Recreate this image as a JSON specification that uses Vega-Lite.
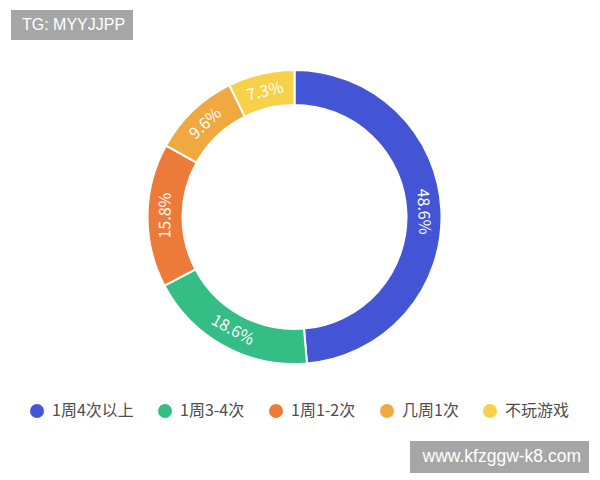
{
  "$schema": "https://vega.github.io/schema/vega-lite/v6.json",
  "width": 589,
  "height": 434,
  "autosize": {"type": "none"},
  "padding": {"left": 0, "top": 0, "right": 11, "bottom": 46},
  "background": "white",
  "config": {
    "view": {"stroke": null},
    "font": "Noto Sans CJK SC"
  },
  "resolve": {"scale": {"shape": "independent"}},
  "layer": [
    {
      "data": {
        "values": [
          {"category": "1周4次以上", "value": 48.6, "order": 1},
          {"category": "1周3-4次", "value": 18.6, "order": 2},
          {"category": "1周1-2次", "value": 15.8, "order": 3},
          {"category": "几周1次", "value": 9.6, "order": 4},
          {"category": "不玩游戏", "value": 7.3, "order": 5}
        ]
      },
      "layer": [
        {
          "mark": {"type": "arc", "outerRadius": 147, "innerRadius": 112, "stroke": "white", "strokeWidth": 2},
          "encoding": {
            "theta": {"field": "value", "type": "quantitative", "stack": true},
            "order": {"field": "order", "type": "quantitative"},
            "color": {
              "field": "category",
              "type": "nominal",
              "scale": {
                "domain": ["1周4次以上", "1周3-4次", "1周1-2次", "几周1次", "不玩游戏"],
                "range": ["#4355D4", "#34BD84", "#EC7B3A", "#F0A940", "#F8D14A"]
              },
              "legend": {
                "title": null,
                "orient": "none",
                "direction": "horizontal",
                "legendX": 29,
                "legendY": 403,
                "symbolType": "circle",
                "symbolSize": 196,
                "symbolStrokeWidth": 0,
                "symbolOpacity": 1,
                "labelFontSize": 16,
                "labelColor": "#4d4d4d",
                "labelOffset": 7,
                "columnPadding": 23,
                "labelFont": "Noto Sans CJK SC"
              }
            }
          }
        },
        {
          "transform": [
            {"window": [{"op": "sum", "field": "value", "as": "cum"}], "sort": [{"field": "order"}]},
            {"joinaggregate": [{"op": "sum", "field": "value", "as": "total"}]},
            {"calculate": "(datum.cum - datum.value / 2) / datum.total * 360", "as": "mid"},
            {"calculate": "datum.mid > 90 && datum.mid < 270 ? datum.mid - 180 : datum.mid", "as": "rot"},
            {"calculate": "format(datum.value, '.1f') + '%'", "as": "label"}
          ],
          "mark": {"type": "text", "radius": 129, "fontSize": 16, "color": "white", "font": "Noto Sans CJK SC", "baseline": "middle", "align": "center"},
          "encoding": {
            "theta": {"field": "value", "type": "quantitative", "stack": true},
            "order": {"field": "order", "type": "quantitative"},
            "text": {"field": "label"},
            "angle": {"field": "rot", "type": "quantitative", "scale": null}
          }
        }
      ]
    },
    {
      "data": {"values": [{"wm": "TG: MYYJJPP"}]},
      "mark": {"type": "point", "opacity": 0},
      "encoding": {
        "shape": {
          "field": "wm",
          "type": "nominal",
          "legend": {
            "title": null,
            "orient": "none",
            "legendX": 11,
            "legendY": 10,
            "fillColor": "#A6A6A6",
            "padding": 7,
            "symbolSize": 0,
            "symbolStrokeWidth": 0,
            "labelOffset": -12,
            "labelFontSize": 16,
            "labelColor": "white",
            "labelFont": "Liberation Sans"
          }
        }
      }
    },
    {
      "data": {"values": [{"wm": "www.kfzggw-k8.com"}]},
      "mark": {"type": "point", "opacity": 0},
      "encoding": {
        "shape": {
          "field": "wm",
          "type": "nominal",
          "legend": {
            "title": null,
            "orient": "none",
            "legendX": 410,
            "legendY": 441,
            "fillColor": "#A6A6A6",
            "padding": 7,
            "symbolSize": 0,
            "symbolStrokeWidth": 0,
            "labelOffset": -12,
            "labelFontSize": 17.5,
            "labelColor": "white",
            "labelFont": "Liberation Sans"
          }
        }
      }
    }
  ]
}
